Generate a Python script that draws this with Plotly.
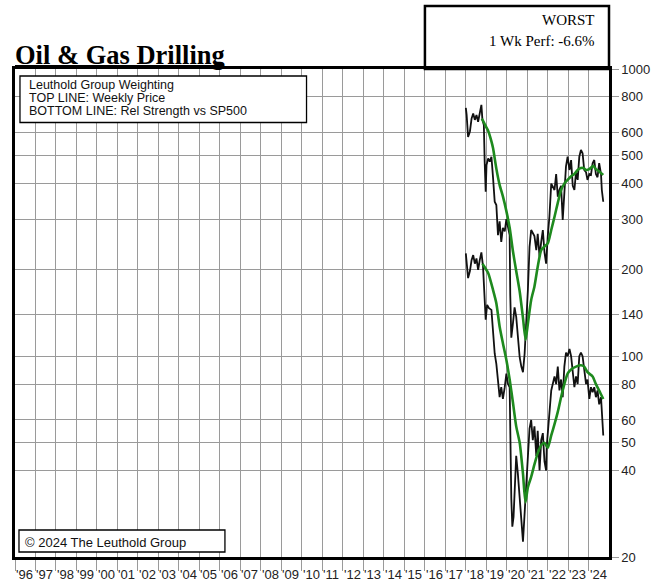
import plotly.graph_objects as go

# ---------------- data ----------------
price_years = [2018.01, 2018.05, 2018.12, 2018.21, 2018.29, 2018.37, 2018.45, 2018.53, 2018.61, 2018.69,
               2018.77, 2018.82, 2018.89, 2018.93, 2018.98, 2019.02, 2019.10, 2019.18, 2019.26, 2019.34,
               2019.42, 2019.50, 2019.58, 2019.66, 2019.74, 2019.82, 2019.91, 2019.99, 2020.07, 2020.15,
               2020.18, 2020.23, 2020.31, 2020.39, 2020.47, 2020.55, 2020.64, 2020.72, 2020.80, 2020.88,
               2020.96, 2021.04, 2021.12, 2021.20, 2021.36, 2021.45, 2021.52, 2021.61, 2021.69, 2021.77,
               2021.85, 2021.93, 2022.01, 2022.09, 2022.18, 2022.34, 2022.42, 2022.50, 2022.58, 2022.66,
               2022.74, 2022.82, 2022.90, 2022.98, 2023.07, 2023.15, 2023.23, 2023.31, 2023.39, 2023.47,
               2023.55, 2023.63, 2023.71, 2023.79, 2023.88, 2023.95, 2024.04, 2024.12, 2024.20, 2024.28,
               2024.36, 2024.44, 2024.52, 2024.61, 2024.65, 2024.72]
price_values = [732, 692, 580, 606, 672, 700, 665, 692, 655, 700,
                750, 665, 638, 476, 374, 463, 488, 476, 495, 417,
                345, 336, 264, 295, 250, 280, 272, 300, 280, 264,
                163, 116, 130, 148, 137, 117, 99, 92, 88, 102,
                130, 170, 240, 275, 262, 234, 267, 222, 250, 275,
                230, 210, 262, 306, 399, 379, 431, 359, 380, 392,
                298, 379, 458, 495, 445, 482, 392, 379, 437, 411,
                495, 523, 509, 445, 437, 411, 431, 428, 470, 482,
                431, 420, 470, 431, 379, 345]

price_ma_years = [2018.79, 2018.90, 2019.02, 2019.10, 2019.26, 2019.34, 2019.50, 2019.66, 2019.82, 2019.99,
                  2020.15, 2020.31, 2020.47, 2020.64, 2020.80, 2020.93, 2021.04, 2021.20, 2021.36, 2021.52,
                  2021.69, 2021.85, 2022.01, 2022.18, 2022.34, 2022.50, 2022.66, 2022.82, 2022.98, 2023.15,
                  2023.31, 2023.47, 2023.63, 2023.76, 2023.88, 2024.04, 2024.23, 2024.36, 2024.52, 2024.72]
price_ma_values = [672, 650, 625, 610, 560, 530, 450, 395, 360, 320,
                   280, 232, 198, 168, 136, 114, 130, 157, 175, 205,
                   234, 241, 247, 275, 306, 342, 379, 399, 411, 423,
                   431, 445, 452, 452, 445, 448, 460, 448, 440, 428]

rs_years = [2018.01, 2018.07, 2018.12, 2018.21, 2018.29, 2018.37, 2018.45, 2018.53, 2018.61, 2018.69,
            2018.77, 2018.85, 2018.93, 2018.98, 2019.05, 2019.14, 2019.26, 2019.34, 2019.42, 2019.50,
            2019.58, 2019.66, 2019.74, 2019.82, 2019.91, 2019.99, 2020.07, 2020.15, 2020.23, 2020.28,
            2020.34, 2020.41, 2020.47, 2020.55, 2020.64, 2020.72, 2020.80, 2020.88, 2020.96, 2021.04,
            2021.12, 2021.20, 2021.28, 2021.36, 2021.45, 2021.52, 2021.61, 2021.69, 2021.77, 2021.85,
            2021.93, 2021.96, 2022.09, 2022.18, 2022.34, 2022.42, 2022.50, 2022.58, 2022.66, 2022.74,
            2022.82, 2022.90, 2022.98, 2023.07, 2023.15, 2023.23, 2023.31, 2023.39, 2023.47, 2023.55,
            2023.63, 2023.71, 2023.79, 2023.88, 2023.95, 2024.04, 2024.12, 2024.20, 2024.28, 2024.36,
            2024.44, 2024.52, 2024.61, 2024.68, 2024.72]
rs_values = [228, 200, 187, 198, 216, 225, 210, 219, 200, 216,
             230, 205, 155, 134, 151, 147, 145, 120, 102, 94,
             83, 72, 78, 71, 78, 87, 80, 78, 32, 25.5,
             27.6, 37, 45, 39, 33, 27, 22.6, 28.3, 37, 45,
             56, 60, 51, 57, 45, 55, 40, 51, 54, 43,
             40, 48.5, 63, 76, 85, 80, 92, 76, 83, 72,
             92, 103, 100, 106, 100, 87, 78, 85, 80, 100,
             103, 100, 90, 80, 83, 71, 78, 75, 78, 72,
             76, 68, 72, 58, 53]

rs_ma_years = [2018.82, 2019.10, 2019.34, 2019.50, 2019.66, 2019.82, 2019.99, 2020.15, 2020.31, 2020.47,
               2020.64, 2020.80, 2020.92, 2021.04, 2021.20, 2021.36, 2021.52, 2021.69, 2021.85, 2022.01,
               2022.18, 2022.34, 2022.50, 2022.66, 2022.82, 2022.98, 2023.15, 2023.39, 2023.63, 2023.79,
               2023.95, 2024.20, 2024.36, 2024.52, 2024.72]
rs_ma_values = [210, 195, 170, 153, 127, 111, 97, 83, 69, 57,
                50, 39, 31, 35, 38, 42, 46, 49, 50, 48,
                53, 58, 64, 72, 80, 87, 90, 92, 93, 92,
                88, 85, 80, 76, 71]

year_ticks = list(range(1996, 2025))
year_labels = ["'" + str(y)[-2:] for y in year_ticks]
y_ticks = [20, 40, 50, 60, 80, 100, 140, 200, 300, 400, 500, 600, 800, 1000]

title_text = "Oil & Gas Drilling"
legend_lines = ["Leuthold Group Weighting", "TOP LINE: Weekly Price", "BOTTOM LINE: Rel Strength vs SP500"]
box_lines = ["WORST", "1 Wk Perf: -6.6%"]
copyright_text = "© 2024 The Leuthold Group"

# ---------------- figure ----------------
W, H = 662, 582
L, R, T, B = 13, 52, 69, 25
PW, PH = W - L - R, H - T - B

def px_y(py):  # pixel row -> paper y
    return (H - B - py) / PH

def px_x(px):  # pixel column -> paper x
    return (px - L) / PW

BLACK = "#111111"
GREEN = "#1e8a1e"
GRID = "#9a9a9a"
SANS = "Liberation Sans, Arial, sans-serif"
SERIF = "Liberation Serif, Times New Roman, serif"

fig = go.Figure()
fig.add_trace(go.Scatter(x=price_years, y=price_values, mode="lines",
                         line=dict(color=BLACK, width=1.8), showlegend=False))
fig.add_trace(go.Scatter(x=rs_years, y=rs_values, mode="lines",
                         line=dict(color=BLACK, width=1.8), showlegend=False))
fig.add_trace(go.Scatter(x=price_ma_years, y=price_ma_values, mode="lines",
                         line=dict(color=GREEN, width=2.6, shape="spline", smoothing=0.6), showlegend=False))
fig.add_trace(go.Scatter(x=rs_ma_years, y=rs_ma_values, mode="lines",
                         line=dict(color=GREEN, width=2.6, shape="spline", smoothing=0.6), showlegend=False))

annotations = []
# year labels
for yv, lab in zip(year_ticks, year_labels):
    annotations.append(dict(x=yv, y=px_y(574), xref="x", yref="paper", text=lab, showarrow=False,
                            xanchor="left", yanchor="middle", xshift=-1,
                            font=dict(family=SANS, size=13, color="#222222")))
# title
annotations.append(dict(x=0, y=px_y(55), xref="paper", yref="paper", text="<b>" + title_text + "</b>",
                        showarrow=False, xanchor="left", yanchor="middle", xshift=-2,
                        font=dict(family=SERIF, size=26.5, color="#000000")))
# legend box texts
for i, line in enumerate(legend_lines):
    annotations.append(dict(x=px_x(25), y=px_y(84.5 + 13 * i), xref="paper", yref="paper", text=line,
                            showarrow=False, xanchor="left", yanchor="middle",
                            font=dict(family=SANS, size=12.5, color="#111111")))
# top-right box texts
for i, line in enumerate(box_lines):
    annotations.append(dict(x=px_x(598), y=px_y(20 + 21 * i), xref="paper", yref="paper", text=line,
                            showarrow=False, xanchor="right", yanchor="middle",
                            font=dict(family=SERIF, size=15, color="#000000")))
# copyright
annotations.append(dict(x=px_x(21), y=px_y(542), xref="paper", yref="paper", text=copyright_text,
                        showarrow=False, xanchor="left", yanchor="middle",
                        font=dict(family=SANS, size=13, color="#111111")))

shapes = [
    # title underline
    dict(type="line", xref="paper", yref="paper", x0=px_x(13), x1=px_x(223), y0=px_y(66), y1=px_y(66),
         line=dict(color="#000000", width=2), layer="above"),
    # top right box
    dict(type="rect", xref="paper", yref="paper", x0=px_x(425), x1=px_x(610), y0=px_y(69), y1=px_y(6),
         line=dict(color="#000000", width=2.5), fillcolor="rgba(0,0,0,0)", layer="above"),
    # legend box
    dict(type="rect", xref="paper", yref="paper", x0=px_x(18), x1=px_x(306), y0=px_y(122.5), y1=px_y(76),
         line=dict(color="#000000", width=1.3), fillcolor="#ffffff", layer="above"),
    # copyright box
    dict(type="rect", xref="paper", yref="paper", x0=px_x(17), x1=px_x(224), y0=px_y(552), y1=px_y(530),
         line=dict(color="#000000", width=1.3), fillcolor="#ffffff", layer="above"),
]

fig.update_layout(
    width=W, height=H,
    margin=dict(l=L, r=R, t=T, b=B, pad=0),
    paper_bgcolor="#ffffff", plot_bgcolor="#ffffff",
    annotations=annotations, shapes=shapes,
    showlegend=False,
)
fig.update_xaxes(range=[1996, 2025], tickmode="array", tickvals=year_ticks, showticklabels=False,
                 ticks="outside", ticklen=11, tickcolor=GRID, tickwidth=1,
                 showgrid=True, gridcolor=GRID, gridwidth=1, zeroline=False,
                 showline=True, linecolor="#000000", linewidth=2.5, mirror=True)
fig.update_yaxes(type="log", range=[1.30103, 3.0], side="right", tickmode="array", tickvals=y_ticks,
                 ticktext=[str(v) for v in y_ticks],
                 ticks="outside", ticklen=7, tickcolor=GRID, tickwidth=1,
                 tickfont=dict(family=SANS, size=13, color="#222222"),
                 showgrid=True, gridcolor=GRID, gridwidth=1, zeroline=False,
                 showline=True, linecolor="#000000", linewidth=2.5, mirror=True)

fig.write_html("out.html",
               config={"displayModeBar": False},
               post_script="document.body.style.margin='0';document.body.style.padding='0';"
                           "document.documentElement.style.overflow='hidden';")
